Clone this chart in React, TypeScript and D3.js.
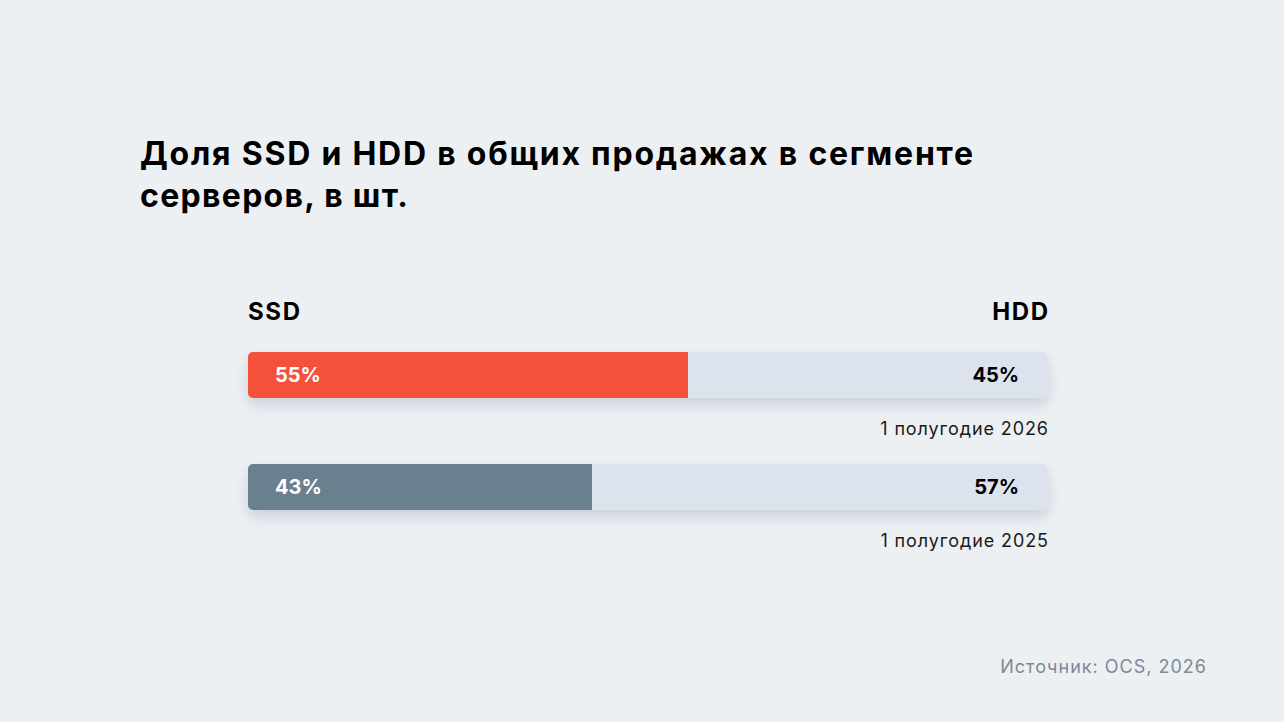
import { useMemo } from 'react';
import * as d3 from 'd3';

const periods = ['1 полугодие 2026', '1 полугодие 2025'];
const ssdShare = [55, 43];
const hddShare = [45, 57];
const ssdColors = ['#f4503a', '#6b808f'];
const titleLines = ['Доля SSD и HDD в общих продажах в сегменте', 'серверов, в шт.'];
const titleWidths = [833, 268];
const seriesNames = ['SSD', 'HDD'];
const sourceText = 'Источник: OCS, 2026';

const W = 1284;
const H = 722;
const FONT = 'Inter, "Noto Sans", sans-serif';

export default function App() {
  const x = useMemo(() => d3.scaleLinear().domain([0, 100]).range([248, 1048]), []);
  const y = useMemo(
    () => d3.scaleBand<string>().domain(periods).range([352, 510]).paddingInner(66 / 112).paddingOuter(0),
    []
  );
  const bh = y.bandwidth();

  return (
    <svg
      width={W}
      height={H}
      style={{ position: 'absolute', left: 0, top: 0, background: '#edf0f3' }}
    >
      <defs>
        <filter id="shadow" x="-10%" y="-50%" width="120%" height="250%">
          <feDropShadow dx="0" dy="7" stdDeviation="7" floodColor="#8596ab" floodOpacity="0.35" />
        </filter>
        {periods.map((p, i) => (
          <clipPath id={`clip-${i}`} key={p}>
            <rect x={x(0)} y={y(p)} width={x(100) - x(0)} height={bh} rx={5} />
          </clipPath>
        ))}
      </defs>
      <rect width={W} height={H} fill="#edf0f3" />

      {titleLines.map((t, i) => (
        <text
          key={t}
          x={140}
          y={165 + i * 42}
          fontFamily={FONT}
          fontWeight={700}
          fontSize={32}
          textLength={titleWidths[i]}
          lengthAdjust="spacing"
          fill="#000"
        >
          {t}
        </text>
      ))}

      <text x={x(0)} y={320} fontFamily={FONT} fontWeight={700} fontSize={24} letterSpacing={1.6} fill="#000">
        {seriesNames[0]}
      </text>
      <text
        x={x(100) + 1.6}
        y={320}
        textAnchor="end"
        fontFamily={FONT}
        fontWeight={700}
        fontSize={24}
        letterSpacing={1.6}
        fill="#000"
      >
        {seriesNames[1]}
      </text>

      {periods.map((p, i) => {
        const y0 = y(p) ?? 0;
        return (
          <g key={p}>
            <rect x={x(0)} y={y0} width={x(100) - x(0)} height={bh} rx={5} fill="#dde3ed" filter="url(#shadow)" />
            <g clipPath={`url(#clip-${i})`}>
              <rect x={x(0)} y={y0} width={x(ssdShare[i]) - x(0)} height={bh} fill={ssdColors[i]} />
            </g>
            <text
              x={x(0) + 27}
              y={y0 + bh / 2 + 7}
              fontFamily={FONT}
              fontWeight={700}
              fontSize={20}
              fill="#fff"
            >
              {`${ssdShare[i]}%`}
            </text>
            <text
              x={x(100) - 29}
              y={y0 + bh / 2 + 7}
              textAnchor="end"
              fontFamily={FONT}
              fontWeight={700}
              fontSize={20}
              fill="#000"
            >
              {`${hddShare[i]}%`}
            </text>
            <text
              x={x(100) + 0.9}
              y={y0 + bh + 37}
              textAnchor="end"
              fontFamily={FONT}
              fontWeight={400}
              fontSize={18}
              letterSpacing={0.9}
              fill="#1a1a1a"
            >
              {p}
            </text>
          </g>
        );
      })}

      <text x={1207} y={673} textAnchor="end" fontFamily={FONT} fontSize={18} letterSpacing={1} fill="#7a8a99">
        {sourceText}
      </text>
    </svg>
  );
}
